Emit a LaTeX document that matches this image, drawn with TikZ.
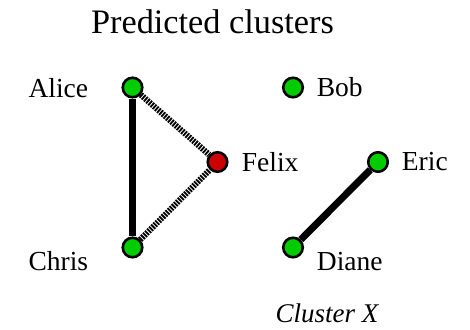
\documentclass[tikz,border=0pt]{standalone}
\usepackage{fontspec}
\setmainfont{Liberation Serif}
\definecolor{ngreen}{RGB}{0,204,0}
\definecolor{nred}{RGB}{204,0,0}
\tikzset{
  vert/.style={circle, draw=black, line width=2.6pt, minimum size=19.5pt, inner sep=0pt, fill=ngreen},
  lab/.style={inner sep=0pt, anchor=base west, font=\fontsize{27.5}{30}\selectfont},
  solidedge/.style={line width=7pt},
  hatchedge/.style={line width=6pt, dash pattern=on 1.8pt off 1.1pt}
}
\begin{document}
\begin{tikzpicture}[x=1pt,y=-1pt]
\useasboundingbox (0,0) rectangle (470,329);
\node[inner sep=0pt, anchor=base, font=\fontsize{34.3}{37}\selectfont] (title) at (212.5,33.3) {Predicted clusters};
\node[vert] (alice) at (132.5,87.5) {};
\node[vert] (chris) at (132.5,247.5) {};
\node[vert, fill=nred] (felix) at (217.5,162) {};
\node[vert] (bob) at (293,87.5) {};
\node[vert] (eric) at (378,162) {};
\node[vert] (diane) at (293,247.5) {};
\draw[solidedge] (alice) -- (chris);
\draw[solidedge] (eric) -- (diane);
\draw[hatchedge] (alice) -- (felix);
\draw[hatchedge] (chris) -- (felix);
\node[lab] (alicel) at (28.3,97.3) {Alice};
\node[lab] (chrisl) at (28.3,270) {Chris};
\node[lab] (felixl) at (241.7,171) {Felix};
\node[lab] (bobl) at (316.7,96.5) {Bob};
\node[lab] (ericl) at (401.7,170.7) {Eric};
\node[lab] (dianel) at (316.7,270) {Diane};
\node[inner sep=0pt, anchor=base west, font=\fontsize{27}{30}\selectfont\itshape] (clx) at (275.5,322.3) {Cluster X};
\end{tikzpicture}
\end{document}
